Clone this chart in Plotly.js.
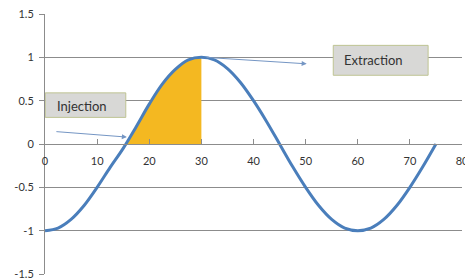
<!DOCTYPE html>
<html>
<head>
<meta charset="utf-8">
<script src="https://cdn.plot.ly/plotly-3.0.1.min.js"></script>
<style>html,body{margin:0;padding:0;background:#fff;}#chart{width:465px;height:278px;}</style>
</head>
<body>
<div id="chart"></div>
<script>
// Curve values
const curveX = [0,2.5,5,7.5,10,12.5,15,17.5,20,22.5,25,27.5,30,32.5,35,37.5,40,42.5,45,47.5,50,52.5,55,57.5,60,62.5,65,67.5,70,72.5,75];
const curveY = [-1,-0.97,-0.87,-0.71,-0.5,-0.27,-0.05,0.2,0.46,0.69,0.86,0.97,1,0.97,0.87,0.71,0.5,0.26,0,-0.26,-0.5,-0.71,-0.87,-0.97,-1,-0.97,-0.87,-0.71,-0.5,-0.26,0];
// Shaded (injection) region
const fillX = [15.6,17.5,20,22.5,25,27.5,30];
const fillY = [0,0.2,0.46,0.69,0.86,0.97,1];
// Ticks
const xTickVals = [0,10,20,30,40,50,60,70,80];
const xTickText = ['0','10','20','30','40','50','60','70','80'];
const yTickVals = [-1.5,-1,-0.5,0,0.5,1,1.5];
const yTickText = ['-1.5','-1','-0.5','0','0.5','1','1.5'];
// Labels
const labelTexts = ['Injection','Extraction'];

const FONT = 'Lato, "Open Sans", sans-serif';
const GRID = '#8c8c8c';

const traces = [
  {x: fillX, y: fillY, type: 'scatter', mode: 'lines', fill: 'tozeroy',
   fillcolor: '#f4b821', line: {width: 0, shape: 'spline', color: '#f4b821'}, hoverinfo: 'skip'},
  {x: curveX, y: curveY, type: 'scatter', mode: 'lines',
   line: {color: '#4a7ebb', width: 3, shape: 'spline'}}
];

const layout = {
  width: 465, height: 278,
  margin: {l: 45, r: 3, t: 14, b: 4},
  paper_bgcolor: '#fff', plot_bgcolor: '#fff',
  showlegend: false,
  font: {family: FONT, size: 11, color: '#333'},
  xaxis: {
    range: [0, 80], anchor: 'free', position: 0.5,
    tickvals: xTickVals, ticktext: xTickText,
    ticks: 'inside', ticklen: 5, tickcolor: GRID, tickwidth: 1,
    showline: true, linecolor: GRID, linewidth: 1,
    showgrid: false, zeroline: false,
    ticklabelstandoff: 7, ticklabeloverflow: 'allow',
    tickfont: {family: FONT, size: 11, color: '#333'}
  },
  yaxis: {
    range: [-1.5, 1.5],
    tickvals: yTickVals, ticktext: yTickText,
    ticks: 'outside', ticklen: 5, tickcolor: GRID, tickwidth: 1,
    showline: true, linecolor: GRID, linewidth: 1,
    showgrid: true, gridcolor: GRID, gridwidth: 1, zeroline: false,
    ticklabelstandoff: 3, ticklabeloverflow: 'allow',
    tickfont: {family: FONT, size: 11, color: '#333'}
  },
  shapes: [
    {type: 'rect', xref: 'x', yref: 'y', x0: 0.05, x1: 15.5, y0: 0.307, y1: 0.59,
     fillcolor: '#d8d8d6', line: {color: '#bfc493', width: 1}, layer: 'above'},
    {type: 'rect', xref: 'x', yref: 'y', x0: 55.3, x1: 73.5, y0: 0.793, y1: 1.138,
     fillcolor: '#d8d8d6', line: {color: '#bfc493', width: 1}, layer: 'above'}
  ],
  annotations: [
    {x: 1.9, y: 0.44, xref: 'x', yref: 'y', text: labelTexts[0], showarrow: false,
     xanchor: 'left', yanchor: 'middle', font: {family: FONT, size: 13, color: '#333'}},
    {x: 57.0, y: 0.97, xref: 'x', yref: 'y', text: labelTexts[1], showarrow: false,
     xanchor: 'left', yanchor: 'middle', font: {family: FONT, size: 13, color: '#333'}},
    {x: 15.7, y: 0.08, ax: 1.9, ay: 0.144, xref: 'x', yref: 'y', axref: 'x', ayref: 'y',
     text: '', showarrow: true, arrowhead: 2, arrowsize: 1, arrowwidth: 1,
     arrowcolor: '#7596c4', standoff: 0, startstandoff: 0},
    {x: 50.2, y: 0.925, ax: 30.7, ay: 1.0, xref: 'x', yref: 'y', axref: 'x', ayref: 'y',
     text: '', showarrow: true, arrowhead: 2, arrowsize: 1, arrowwidth: 1,
     arrowcolor: '#7596c4', standoff: 0, startstandoff: 0}
  ]
};

Plotly.newPlot('chart', traces, layout, {displayModeBar: false, staticPlot: true});
</script>
</body>
</html>
